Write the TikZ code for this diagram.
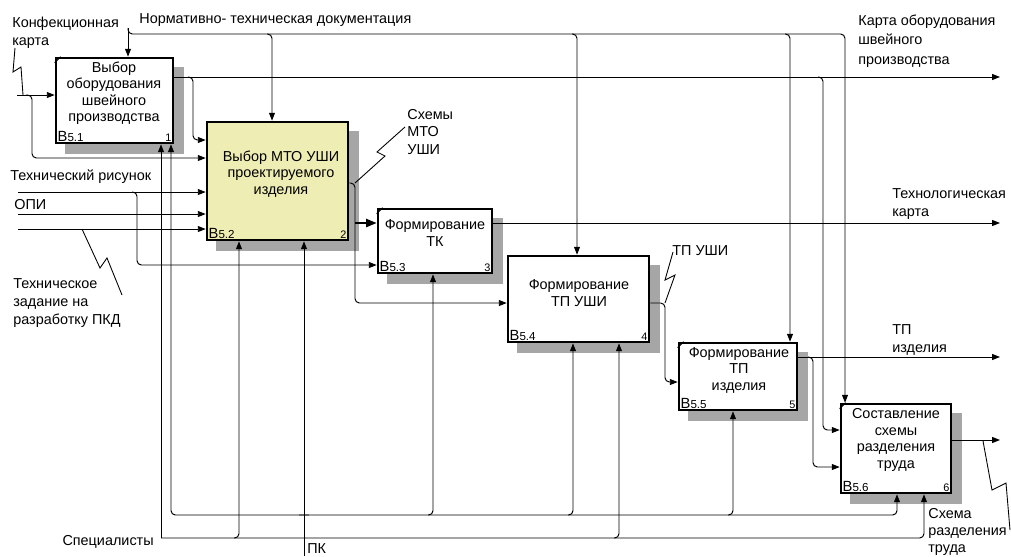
\documentclass[tikz,border=0pt]{standalone}
\usepackage{fontspec}
\setmainfont{Liberation Sans}
\usetikzlibrary{arrows.meta,fit,backgrounds}

\definecolor{mtofill}{RGB}{238,238,180}

\tikzset{
  box/.style={draw, line width=1.5pt, fill=white, inner sep=0pt},
  boxshadow/.style={fill=black!35},
  boxtext/.style={align=center, inner sep=0pt, font=\fontsize{8.2}{9.4}\selectfont},
  lbl/.style={align=left, inner sep=0pt, anchor=west, font=\fontsize{8.2}{10}\selectfont},
  idtag/.style={inner sep=1.5pt, anchor=south west, font=\fontsize{6.6}{7}\selectfont},
  numtag/.style={inner sep=1.5pt, anchor=south east, font=\fontsize{6.2}{6}\selectfont},
  flow/.style={line width=0.55pt, rounded corners=2.5pt, -{Triangle[length=4.5pt,width=3.4pt]}},
  boldflow/.style={line width=1.1pt, -{Triangle[length=6pt,width=4.6pt]}},
  squiggle/.style={line width=0.5pt},
}

\begin{document}
\begin{tikzpicture}[x=0.02cm, y=-0.02cm]
\useasboundingbox (0,0) rectangle (1011,556);

% blocks
\node[box, fit={(56,58) (173,143)}] (b1) {};
\node[box, fill=mtofill, fit={(207,122) (348,240)}] (b2) {};
\node[box, fit={(378,209) (492,273)}] (b3) {};
\node[box, fit={(508,256) (649,342)}] (b4) {};
\node[box, fit={(679,343) (797,410)}] (b5) {};
\node[box, fit={(841,404) (951,493)}] (b6) {};

\begin{scope}[on background layer]
\foreach \i in {1,...,6}
  \fill[boxshadow] ([shift={(10,10)}]b\i.north west) rectangle ([shift={(10,10)}]b\i.south east);
\end{scope}

\foreach \i in {1,...,6} {
  \node[idtag] (id\i) at (b\i.south west) {{\fontsize{8.4}{9}\selectfont B}5.\i};
  \node[numtag] (num\i) at (b\i.south east) {\i};
}
\foreach \i in {1,3,5,6}
  \draw[line width=0.6pt] (b\i.north west) ++(0,6) -- ++(6,-6);

\node[boxtext] (t1) at (114,93) {Выбор\\оборудования\\швейного\\производства};
\node[boxtext] (t2) at (281,174) {Выбор МТО УШИ\\проектируемого\\изделия};
\node[boxtext] (t3) at (435,233) {Формирование\\ТК};
\node[boxtext] (t4) at (579,293) {Формирование\\ТП УШИ};
\node[boxtext] (t5) at (739,370) {Формирование\\ТП\\изделия};
\node[boxtext] (t6) at (896,440) {Составление\\схемы\\разделения\\труда};

% inputs
\coordinate (kk) at (17,95);
\coordinate (tr) at (18,192);
\coordinate (opi) at (18,214);
\coordinate (tz) at (18,229);
\draw[flow] (kk) -- (kk -| b1.west);
\draw[flow] (26,95) -| (32,158) -- (b2.west |- 32,158);
\draw[flow] (tr) -- (tr -| b2.west);
\draw[flow] (132,192) -| (137,265) -- (b3.west |- 137,265);
\draw[flow] (opi) -- (opi -| b2.west);
\draw[flow] (tz) -- (tz -| b2.west);

% outputs
\coordinate (ko) at (1000,77);
\coordinate (tk) at (1000,223);
\coordinate (tpi) at (1000,357);
\coordinate (srt) at (1000,440);
\draw[flow] (b1.east |- ko) -- (ko);
\draw[flow] (188,77) -| (193,140) -- (b2.west |- 193,140);
\draw[flow] (818,77) -| (823,430) -- (b6.west |- 823,430);
\draw[flow] (b2.east |- 0,183) -| (355,303) -- (b4.west |- 355,303);
\draw[boldflow] (355,223) -- (b3.west |- 355,223);
\draw[flow] (b3.east |- tk) -- (tk);
\draw[flow] (b4.east |- 0,303) -| (665,382) -- (b5.west |- 665,382);
\draw[flow] (b5.east |- tpi) -- (tpi);
\draw[flow] (808,357) -| (813,467) -- (b6.west |- 813,467);
\draw[flow] (b6.east |- srt) -- (srt);

% controls
\coordinate (nd) at (128,28);
\draw[flow] (nd) -- (nd |- b1.north);
\draw[flow] (nd) -- (128,34) -- (845,34) -- (845,0 |- b6.north);
\draw[flow] (267,34) -| (272,0 |- b2.north);
\draw[flow] (572,34) -| (577,0 |- b4.north);
\draw[flow] (785,34) -| (790,0 |- b5.north);

% mechanisms
\coordinate (sp) at (161,538);
\coordinate (pk) at (304,556);
\draw[flow] (sp) -- (sp |- b1.south);
\draw[flow] (sp) -| (924,0 |- b6.south);
\draw[flow] (234,538) -| (239,0 |- b2.south);
\draw[flow] (614,538) -| (619,0 |- b4.south);
\draw[flow] (pk) -- (pk |- b2.south);
\draw[flow] (309,515) -| (171,0 |- b1.south);
\draw[flow] (299,515) -| (897,0 |- b6.south);
\draw[flow] (428,515) -| (433,0 |- b3.south);
\draw[flow] (568,515) -| (573,0 |- b4.south);
\draw[flow] (728,515) -| (733,0 |- b5.south);

% squiggles
\draw[squiggle] (15,48) -- (13,72) -- (21,67) -- (23,95);
\draw[squiggle] (82,229) -- (100,268) -- (107,258) -- (122,295);
\draw[squiggle] (405,127) -- (377,152) -- (385,156) -- (355,183);
\draw[squiggle] (673,252) -- (665,280) -- (675,275) -- (665,303);
\draw[squiggle] (983,441) -- (992,490) -- (1006,483) -- (1010,530);

% labels
\node[lbl] (l-kk) at (12,33) {Конфекционная\\карта};
\node[lbl] (l-nd) at (139,20) {Нормативно- техническая документация};
\node[lbl, font=\fontsize{8.2}{11}\selectfont] (l-ko) at (858,41) {Карта оборудования\\швейного\\производства};
\node[lbl] (l-smto) at (407,132) {Схемы\\МТО\\УШИ};
\node[lbl] (l-tr) at (10,177) {Технический рисунок};
\node[lbl] (l-opi) at (14,205) {ОПИ};
\node[lbl] (l-tz) at (13,303) {Техническое\\задание на\\разработку ПКД};
\node[lbl] (l-tk) at (892,204) {Технологическая\\карта};
\node[lbl] (l-tpu) at (672,251) {ТП УШИ};
\node[lbl] (l-tpi) at (892,340) {ТП\\изделия};
\node[lbl, anchor=east] (l-sp) at (154,542) {Специалисты};
\node[lbl] (l-pk) at (307,549) {ПК};
\node[lbl, font=\fontsize{8.2}{9.6}\selectfont] (l-srt) at (928,532) {Схема\\разделения\\труда};
\end{tikzpicture}
\end{document}
